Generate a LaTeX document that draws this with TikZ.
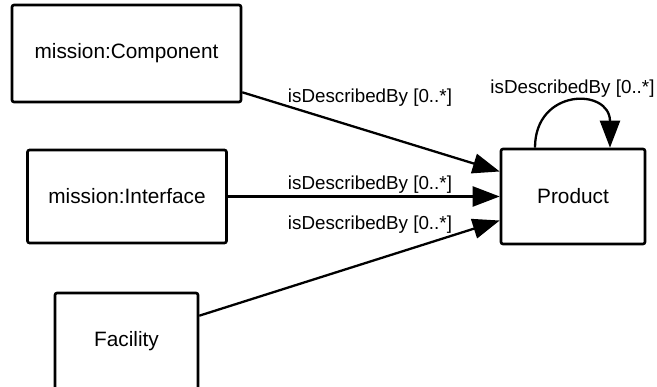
\documentclass[tikz,border=0pt]{standalone}
\usepackage{fontspec}
\setmainfont{Liberation Sans}
\usetikzlibrary{arrows.meta,positioning,calc}

\tikzset{
  classbox/.style={draw,line width=2.6pt,rounded corners=2pt,inner sep=0pt,
    font=\fontsize{20.8}{25}\selectfont},
  assoc/.style={line width=2.3pt,-{Triangle[length=27pt,width=20pt]}},
  rolelbl/.style={inner sep=0pt,font=\fontsize{18.8}{22}\selectfont}
}

\begin{document}
\begin{tikzpicture}[x=1pt,y=-1pt]
\useasboundingbox (0,0) rectangle (657,387);
\node[classbox,minimum width=229pt,minimum height=97pt] (comp) at (126.5,53.5) {mission:Component};
\node[classbox,minimum width=199pt,minimum height=93pt] (iface) at (127,196.5) {mission:Interface};
\node[classbox,minimum width=143pt,minimum height=96pt] (facility) at (126.5,341) {Facility};
\node[classbox,minimum width=144pt,minimum height=95pt] (product) at (573,196.5) {Product};
% role labels
\node[rolelbl] (lcomp) at (370,98) {isDescribedBy [0..*]};
\node[rolelbl] (liface) at (370,185) {isDescribedBy [0..*]};
\node[rolelbl] (lfac) at (370,225) {isDescribedBy [0..*]};
\node[rolelbl] (lself) at (572.5,88.5) {isDescribedBy [0..*]};
% associations
\draw[assoc] ([yshift=11pt]comp.south east) -- ([yshift=25pt]product.west);
\draw[assoc] (iface) -- (product);
\draw[assoc] ([yshift=-24pt]facility.north east) -- ([yshift=-24pt]product.west);
\draw[assoc] ([xshift=-38pt]product.north) .. controls +(0,-60) and +(0,-60) .. ([xshift=37pt]product.north);
\end{tikzpicture}
\end{document}
